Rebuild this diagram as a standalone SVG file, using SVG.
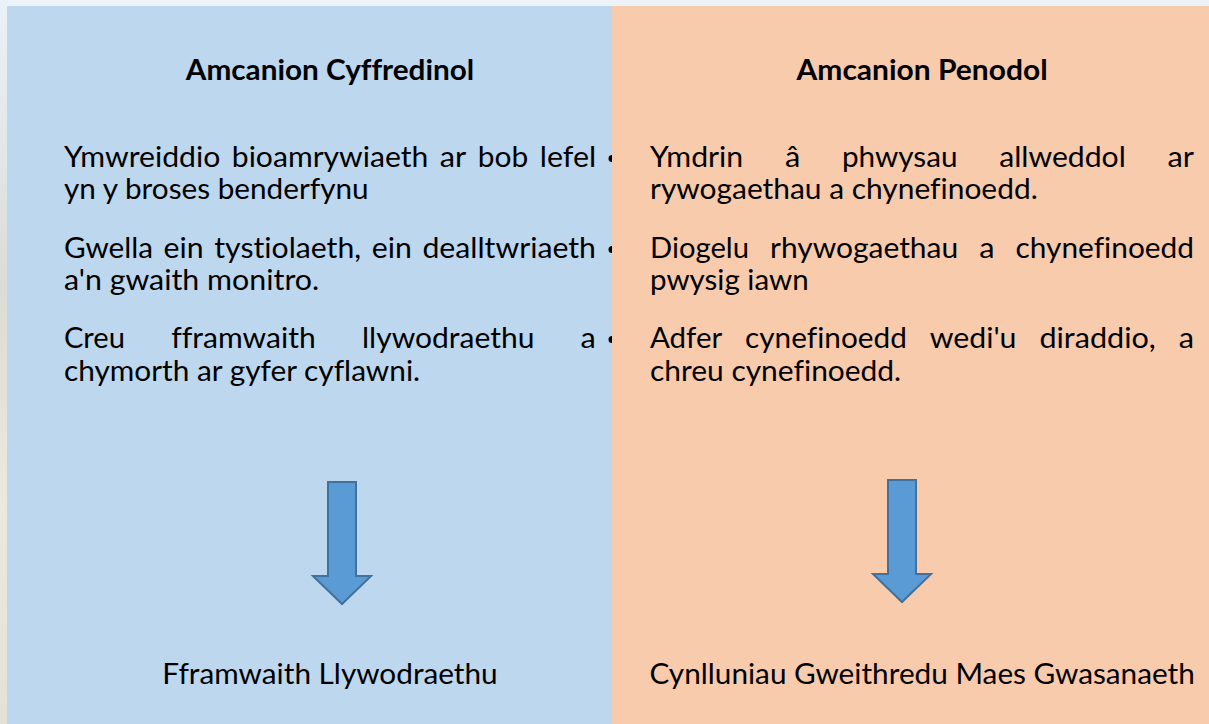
<svg xmlns="http://www.w3.org/2000/svg" width="1209" height="724" viewBox="0 0 1209 724">
<style>
text{font-family:Lato,"Open Sans","Liberation Sans",sans-serif;font-size:29px;fill:#000;font-variant-ligatures:none;font-feature-settings:"liga" 0,"clig" 0}
.h{font-weight:bold}
.arrow{fill:#5B9BD5;stroke:#41719C;stroke-width:2;stroke-linejoin:miter}
</style>
<defs>
<linearGradient id="bgl" x1="0" y1="0" x2="0" y2="1">
<stop offset="0" stop-color="#eaf1f8"/><stop offset="0.4" stop-color="#dcdcd6"/><stop offset="0.7" stop-color="#ebe9df"/><stop offset="1" stop-color="#e4e2d8"/>
</linearGradient>
<path id="arr" d="M-14,0 H14 V94 H29 L0,122 L-29,94 H-14 Z"/>
</defs>
<rect x="0" y="0" width="1209" height="724" fill="#edf3f9"/>
<rect x="0" y="0" width="8" height="724" fill="url(#bgl)"/>
<g id="panel-left">
<rect x="7" y="6" width="605" height="718" fill="#BDD7EE"/>
<text class="h" x="185.8" y="80" textLength="288.4" lengthAdjust="spacingAndGlyphs">Amcanion Cyffredinol</text>
<text x="64" y="167" textLength="156.3" lengthAdjust="spacingAndGlyphs">Ymwreiddio</text>
<text x="231.8" y="167" textLength="196.5" lengthAdjust="spacingAndGlyphs">bioamrywiaeth</text>
<text x="439.8" y="167" textLength="26.5" lengthAdjust="spacingAndGlyphs">ar</text>
<text x="477.8" y="167" textLength="50.5" lengthAdjust="spacingAndGlyphs">bob</text>
<text x="539.8" y="167" textLength="56.3" lengthAdjust="spacingAndGlyphs">lefel</text>
<text x="64" y="199" textLength="304.6" lengthAdjust="spacingAndGlyphs">yn y broses benderfynu</text>
<text x="64" y="258" textLength="89" lengthAdjust="spacingAndGlyphs">Gwella</text>
<text x="163.6" y="258" textLength="40.1" lengthAdjust="spacingAndGlyphs">ein</text>
<text x="214.3" y="258" textLength="146.8" lengthAdjust="spacingAndGlyphs">tystiolaeth,</text>
<text x="371.7" y="258" textLength="40.1" lengthAdjust="spacingAndGlyphs">ein</text>
<text x="422.4" y="258" textLength="173.6" lengthAdjust="spacingAndGlyphs">dealltwriaeth</text>
<text x="64" y="290" textLength="255.2" lengthAdjust="spacingAndGlyphs">a'n gwaith monitro.</text>
<text x="64" y="348" textLength="61" lengthAdjust="spacingAndGlyphs">Creu</text>
<text x="171.2" y="348" textLength="144.6" lengthAdjust="spacingAndGlyphs">fframwaith</text>
<text x="362" y="348" textLength="172.4" lengthAdjust="spacingAndGlyphs">llywodraethu</text>
<text x="580.6" y="348" textLength="15.3" lengthAdjust="spacingAndGlyphs">a</text>
<text x="64" y="381" textLength="356.1" lengthAdjust="spacingAndGlyphs">chymorth ar gyfer cyflawni.</text>
<text x="162.3" y="684" textLength="335.4" lengthAdjust="spacingAndGlyphs">Fframwaith Llywodraethu</text>
</g>
<g id="panel-right">
<rect x="612" y="6" width="597" height="718" fill="#F8CBAD"/>
<text class="h" x="796.5" y="80" textLength="251.1" lengthAdjust="spacingAndGlyphs">Amcanion Penodol</text>
<text x="650" y="167" textLength="93.2" lengthAdjust="spacingAndGlyphs">Ymdrin</text>
<text x="784.9" y="167" textLength="15.3" lengthAdjust="spacingAndGlyphs">â</text>
<text x="841.9" y="167" textLength="115.6" lengthAdjust="spacingAndGlyphs">phwysau</text>
<text x="999.2" y="167" textLength="126.6" lengthAdjust="spacingAndGlyphs">allweddol</text>
<text x="1167.5" y="167" textLength="26.5" lengthAdjust="spacingAndGlyphs">ar</text>
<text x="650" y="199" textLength="387.7" lengthAdjust="spacingAndGlyphs">rywogaethau a chynefinoedd.</text>
<text x="650" y="258" textLength="99" lengthAdjust="spacingAndGlyphs">Diogelu</text>
<text x="770" y="258" textLength="188.2" lengthAdjust="spacingAndGlyphs">rhywogaethau</text>
<text x="979.2" y="258" textLength="15.3" lengthAdjust="spacingAndGlyphs">a</text>
<text x="1015.5" y="258" textLength="178.5" lengthAdjust="spacingAndGlyphs">chynefinoedd</text>
<text x="650" y="290" textLength="158.7" lengthAdjust="spacingAndGlyphs">pwysig iawn</text>
<text x="650" y="348" textLength="72.2" lengthAdjust="spacingAndGlyphs">Adfer</text>
<text x="745.1" y="348" textLength="161.7" lengthAdjust="spacingAndGlyphs">cynefinoedd</text>
<text x="929.7" y="348" textLength="86.8" lengthAdjust="spacingAndGlyphs">wedi'u</text>
<text x="1039.4" y="348" textLength="116.4" lengthAdjust="spacingAndGlyphs">diraddio,</text>
<text x="1178.7" y="348" textLength="15.3" lengthAdjust="spacingAndGlyphs">a</text>
<text x="650" y="381" textLength="251.2" lengthAdjust="spacingAndGlyphs">chreu cynefinoedd.</text>
<text x="649.5" y="684" textLength="545.3" lengthAdjust="spacingAndGlyphs">Cynlluniau Gweithredu Maes Gwasanaeth</text>
</g>
<g id="bullets" fill="#000">
<path d="M612,155 A3.5,3.5 0 0 0 612,162 Z"/>
<path d="M612,246 A3.5,3.5 0 0 0 612,253 Z"/>
<path d="M612,336 A3.5,3.5 0 0 0 612,343 Z"/>
</g>
<g id="connectors">
<use href="#arr" class="arrow" transform="translate(342,482)"/>
<use href="#arr" class="arrow" transform="translate(902,480)"/>
</g>
</svg>
